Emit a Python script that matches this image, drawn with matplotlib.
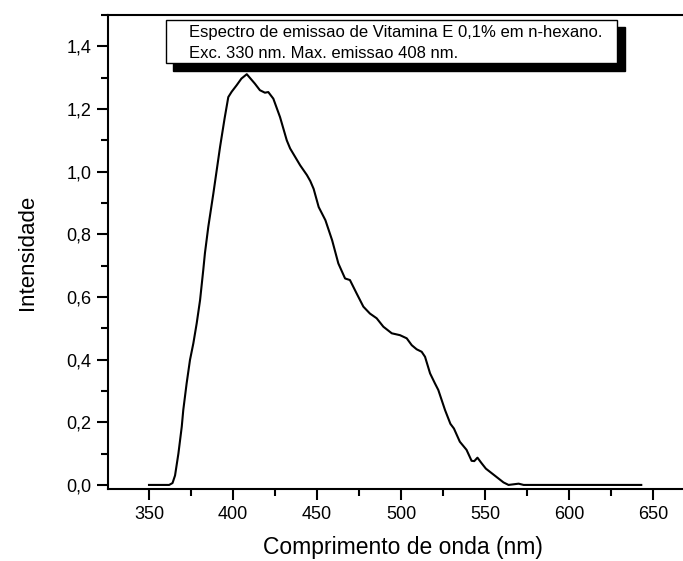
import numpy as np
import matplotlib.pyplot as plt
from matplotlib.patches import Rectangle
from matplotlib.ticker import MultipleLocator, FuncFormatter

plt.rcParams['font.family'] = ['Liberation Sans', 'DejaVu Sans']

# emission spectrum
wavelength = [350, 362, 364, 365.5, 367.5, 369.5, 370.4, 372.4, 374.4, 376.4, 378.4,
              380.4, 382.3, 383.3, 385.3, 388.3, 392.3, 395, 397.2, 399.2, 402.2,
              405, 408.2, 413, 416, 419, 421, 424, 428, 432, 434,
              437, 440, 444, 446, 448, 451, 455, 459, 462.7, 466.7,
              469.6, 473.6, 477.6, 481.5, 485.5, 489.5, 494.5, 499.4, 503.4, 506.4,
              509.3, 512.3, 514.3, 517.3, 520.2, 522.2, 526.2, 529.4, 531.5, 535,
              539, 542, 543.6, 545.5, 548, 550.5, 556, 561, 564, 567,
              570, 573, 643]
intensity = [0, 0, 0.006, 0.03, 0.10, 0.186, 0.239, 0.324, 0.399, 0.452, 0.516,
             0.59, 0.686, 0.74, 0.824, 0.930, 1.079, 1.17, 1.238, 1.255, 1.276,
             1.297, 1.311, 1.281, 1.26, 1.252, 1.254, 1.233, 1.174, 1.10, 1.074,
             1.047, 1.02, 0.989, 0.97, 0.945, 0.887, 0.845, 0.781, 0.707, 0.659,
             0.654, 0.611, 0.569, 0.547, 0.532, 0.505, 0.484, 0.478, 0.468, 0.446,
             0.433, 0.425, 0.409, 0.356, 0.324, 0.303, 0.239, 0.195, 0.18, 0.138,
             0.112, 0.077, 0.076, 0.087, 0.069, 0.052, 0.029, 0.008, 0.0, 0.002,
             0.004, 0.0, 0.0]

legend_lines = ["Espectro de emissao de Vitamina E 0,1% em n-hexano.",
                "Exc. 330 nm. Max. emissao 408 nm."]

W, H = 683, 561
fig = plt.figure(figsize=(W / 100, H / 100), dpi=100)
ax = fig.add_axes([108 / W, 72 / H, 0.92, 474 / H])

ax.plot(wavelength, intensity, color='black', lw=1.5)

ax.set_xlim(325.6, 699.6)
ax.set_ylim(-0.013, 1.5)

ax.xaxis.set_major_locator(MultipleLocator(50))
ax.xaxis.set_minor_locator(MultipleLocator(25))
ax.yaxis.set_major_locator(MultipleLocator(0.2))
ax.yaxis.set_minor_locator(MultipleLocator(0.1))
ax.yaxis.set_major_formatter(FuncFormatter(lambda v, p: f"{v:.1f}".replace('.', ',')))

ax.tick_params(which='major', direction='out', length=8, width=1.5, labelsize=13, pad=4)
ax.tick_params(which='minor', direction='out', length=5, width=1.5)
ax.spines['right'].set_visible(False)
for s in ['left', 'bottom', 'top']:
    ax.spines[s].set_linewidth(1.5)

ax.set_xlabel("Comprimento de onda (nm)", fontsize=16.5)
ax.set_ylabel("Intensidade", fontsize=16)
ax.xaxis.set_label_coords(0.469, -0.1)
ax.yaxis.set_label_coords(-0.112, 0.5)

# Origin-style text box with drop shadow
def fx(px):
    return px / W

def fy(py):
    return 1 - py / H

fig.patches.append(Rectangle((fx(173), fy(71)), fx(625) - fx(173), fy(27) - fy(71),
                             transform=fig.transFigure, facecolor='black',
                             edgecolor='black', zorder=5))
fig.patches.append(Rectangle((fx(166), fy(63)), fx(617) - fx(166), fy(20) - fy(63),
                             transform=fig.transFigure, facecolor='white',
                             edgecolor='black', lw=1, zorder=6))
fig.text(fx(189), fy(33), legend_lines[0], fontsize=12, va='center', ha='left', zorder=7)
fig.text(fx(189), fy(53), legend_lines[1], fontsize=12, va='center', ha='left', zorder=7)

fig.savefig("out.png", dpi=100)
